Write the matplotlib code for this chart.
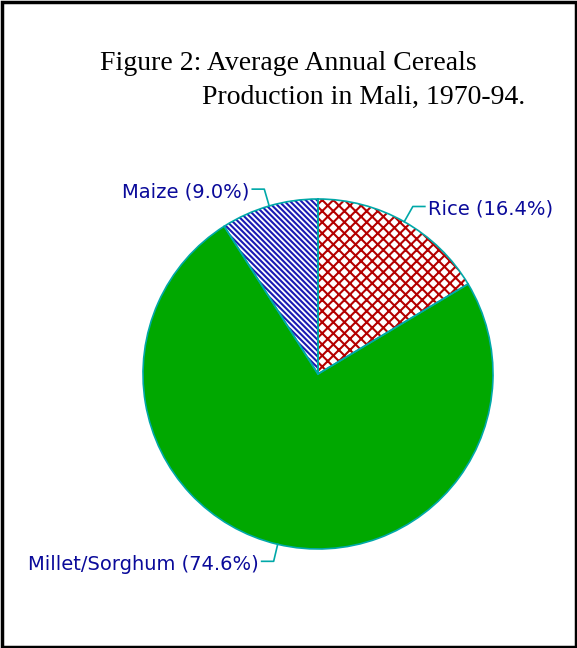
import numpy as np
import matplotlib.pyplot as plt
from matplotlib.patches import Rectangle

# Average annual cereals production shares, 1970-94
crops = ['Rice', 'Millet/Sorghum', 'Maize']
shares = [16.4, 74.6, 9.0]
fills = ['white', '#00a800', 'white']
hatch_cols = ['#b40000', '#00a800', '#1a1ab4']
hatches = ['xxx', None, '\\\\\\\\\\\\']

W, H = 577, 648
cx, cy, r = 318, H - 374, 175
edge_col = '#00a8a8'
lbl_col = '#0a0a9a'

plt.rcParams['hatch.linewidth'] = 1.5

fig = plt.figure(figsize=(W / 100, H / 100), dpi=100)
ax = fig.add_axes([0, 0, 1, 1])

# hatched fills first, then the outlined pie on top
wedges, _ = ax.pie(shares, startangle=90, counterclock=False, radius=r,
                   center=(cx, cy), colors=fills,
                   wedgeprops=dict(linewidth=0))
for w, hc, h in zip(wedges, hatch_cols, hatches):
    w.set_edgecolor(hc)
    if h:
        w.set_hatch(h)
    else:
        w.set_facecolor(hc)

ax.pie(shares, startangle=90, counterclock=False, radius=r,
       center=(cx, cy), colors=['none'] * 3,
       wedgeprops=dict(linewidth=1.2, edgecolor=edge_col))
ax.plot([cx, cx], [cy, cy + r], color=edge_col, lw=1.2)

# labels with elbow leader lines
for w, name, v in zip(wedges, crops, shares):
    ang = np.deg2rad((w.theta1 + w.theta2) / 2)
    x0, y0 = cx + r * np.cos(ang), cy + r * np.sin(ang)
    x1, y1 = cx + 1.1 * r * np.cos(ang), cy + 1.1 * r * np.sin(ang)
    side = 1 if np.cos(ang) > 0 else -1
    x2 = x1 + 12 * side
    ax.plot([x0, x1, x2], [y0, y1, y1], color=edge_col, lw=1.2)
    ax.text(x2 + 3 * side, y1 - 3, f'{name} ({v:.1f}%)', color=lbl_col,
            fontsize=14, family='DejaVu Sans',
            ha='left' if side > 0 else 'right', va='center')

ax.text(100, H - 63, 'Figure 2: Average Annual Cereals', fontsize=20,
        family='Liberation Serif', ha='left', va='center')
ax.text(525, H - 97, 'Production in Mali, 1970-94.', fontsize=20,
        family='Liberation Serif', ha='right', va='center')

ax.add_patch(Rectangle((1.5, 1.5), W - 3, H - 3, fill=False,
                       edgecolor='black', lw=2.5))

# pie() resets the view, so fix the pixel-based limits afterwards
ax.set_xlim(0, W)
ax.set_ylim(0, H)
ax.set_aspect('equal')
ax.axis('off')

fig.savefig('out.png', dpi=100)
